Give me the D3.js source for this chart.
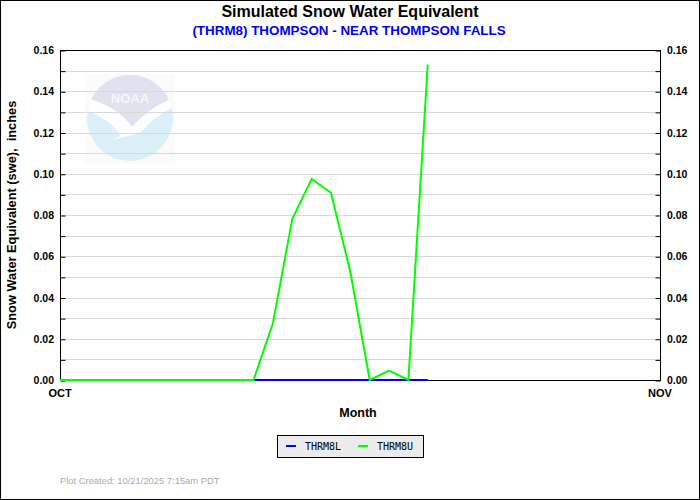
<!DOCTYPE html>
<html><head><meta charset="utf-8">
<script src="https://cdn.jsdelivr.net/npm/d3@7"></script>
<style>html,body{margin:0;padding:0;background:#fff}svg{display:block}</style>
</head><body>
<script>
// ---- data ----
const dates = ["2025-10-01","2025-10-02","2025-10-03","2025-10-04","2025-10-05","2025-10-06","2025-10-07","2025-10-08","2025-10-09","2025-10-10","2025-10-11","2025-10-12","2025-10-13","2025-10-14","2025-10-15","2025-10-16","2025-10-17","2025-10-18","2025-10-19","2025-10-20"];
const thrm8L = [0,0,0,0,0,0,0,0,0,0,0,0,0,0,0,0,0,0,0,0];
const thrm8U = [0,0,0,0,0,0,0,0,0,0,0,0.0275,0.078,0.0975,0.0908,0.0525,0,0.0045,0,0.153];
const yTicks = [0,0.02,0.04,0.06,0.08,0.10,0.12,0.14,0.16];
const xTickLabels = ["OCT","NOV"];
const xTickDates = ["2025-10-01","2025-11-01"];
const seriesNames = ["THRM8L","THRM8U"];
const seriesColors = ["#0000ff","#00ff00"];

const W=700,H=500;
const m={l:60,r:40,t:50,b:120};
const svg=d3.select("body").append("svg").attr("width",W).attr("height",H);
const parse=d3.utcParse("%Y-%m-%d");
const x=d3.scaleUtc().domain([parse(xTickDates[0]),parse(xTickDates[1])]).range([m.l,W-m.r]);
const y=d3.scaleLinear().domain([0,0.16]).range([H-m.b,m.t]);

svg.append("rect").attr("x",0.5).attr("y",0.5).attr("width",W-1).attr("height",H-1).attr("fill","#fff").attr("stroke","#000");

// NOAA logo (faded watermark)
const lg=svg.append("g");
const cx=130,cy=118,r=43;
lg.append("rect").attr("x",cx-45).attr("y",cy-44).attr("width",90).attr("height",90).attr("fill","#fbfbfb");
const defs=svg.append("defs");
defs.append("clipPath").attr("id","lc").append("circle").attr("cx",cx).attr("cy",cy).attr("r",r);
lg.append("circle").attr("cx",cx).attr("cy",cy).attr("r",r).attr("fill","#daeff8");
const lc=lg.append("g").attr("clip-path","url(#lc)");
lc.append("path").attr("d",`M80,70 L180,70 L180,95 Q150,106 132,127 Q116,104 80,97 Z`).attr("fill","#e0e2ee");
lc.append("path").attr("d",`M80,97 Q116,104 132,127 Q150,106 180,95 L180,104 Q156,114 140,133 L112,140 L121,136 Q108,116 80,109 Z`).attr("fill","#ffffff");
lg.append("text").attr("x",cx).attr("y",cy-15).attr("text-anchor","middle").attr("font-family","Liberation Sans, Arial, sans-serif").attr("font-weight","bold").attr("font-size",13).attr("fill","#f6f6fb").text("NOAA");

// gridlines
const grid=d3.range(1,16).map(d=>d/100);
svg.append("g").selectAll("line").data(grid).join("line")
  .attr("x1",m.l).attr("x2",W-m.r).attr("y1",d=>Math.round(y(d))+0.5).attr("y2",d=>Math.round(y(d))+0.5)
  .attr("stroke","#d9d9d9").attr("stroke-width",1);

// axes
const font="Liberation Sans, Arial, Helvetica, sans-serif";
const allTicks=d3.range(0,17).map(d=>d/100);
const yl=svg.append("g").attr("transform",`translate(${m.l+0.5},0.5)`)
  .call(d3.axisLeft(y).tickValues(allTicks).tickSizeInner(-5).tickSizeOuter(0).tickFormat(d=>""));
const yr=svg.append("g").attr("transform",`translate(${W-m.r+0.5},0.5)`)
  .call(d3.axisRight(y).tickValues(allTicks).tickSizeInner(-5).tickSizeOuter(0).tickFormat(d=>""));
[yl,yr].forEach(g=>{g.select(".domain").remove();g.selectAll("line").attr("stroke","#000");});
svg.append("g").selectAll("text").data(yTicks).join("text")
  .attr("x",m.l-6).attr("y",d=>y(d)+4).attr("text-anchor","end")
  .attr("font-family",font).attr("font-weight","bold").attr("font-size",10.5).text(d=>d3.format(".2f")(d));
svg.append("g").selectAll("text").data(yTicks).join("text")
  .attr("x",W-m.r+7).attr("y",d=>y(d)+4).attr("text-anchor","start")
  .attr("font-family",font).attr("font-weight","bold").attr("font-size",10.5).text(d=>d3.format(".2f")(d));
svg.append("g").selectAll("text").data(xTickDates).join("text")
  .attr("x",d=>x(parse(d))).attr("y",H-m.b+17).attr("text-anchor","middle")
  .attr("font-family",font).attr("font-weight","bold").attr("font-size",11).text((d,i)=>xTickLabels[i]);

// plot frame
svg.append("rect").attr("x",m.l+0.5).attr("y",m.t+0.5).attr("width",W-m.l-m.r).attr("height",H-m.t-m.b)
  .attr("fill","none").attr("stroke","#000");

// lines
const series=[thrm8L,thrm8U];
series.forEach((vals,i)=>{
  const line=d3.line().x((d,j)=>x(parse(dates[j]))).y(d=>y(d));
  svg.append("path").datum(vals).attr("d",line).attr("fill","none")
    .attr("stroke",seriesColors[i]).attr("stroke-width",2);
});

// titles
svg.append("text").attr("x",350).attr("y",17).attr("text-anchor","middle").attr("font-family",font)
  .attr("font-weight","bold").attr("font-size",16).text("Simulated Snow Water Equivalent");
svg.append("text").attr("x",349).attr("y",35).attr("text-anchor","middle").attr("font-family",font)
  .attr("font-weight","bold").attr("font-size",13.4).attr("fill","#0000ff").text("(THRM8) THOMPSON - NEAR THOMPSON FALLS");
svg.append("text").attr("transform",`translate(16,${(m.t+H-m.b)/2}) rotate(-90)`).attr("text-anchor","middle")
  .attr("font-family",font).attr("font-weight","bold").attr("font-size",12.8).attr("xml:space","preserve")
  .text("Snow Water Equivalent (swe),  inches");
svg.append("text").attr("x",358).attr("y",417).attr("text-anchor","middle").attr("font-family",font)
  .attr("font-weight","bold").attr("font-size",12.5).text("Month");

// legend
const lgd=svg.append("g");
lgd.append("rect").attr("x",277.5).attr("y",435.5).attr("width",146).attr("height",22).attr("fill","#ebebeb").attr("stroke","#000");
const lx=[286,358];
seriesNames.forEach((n,i)=>{
  lgd.append("line").attr("x1",lx[i]).attr("x2",lx[i]+10).attr("y1",446).attr("y2",446).attr("stroke",seriesColors[i]).attr("stroke-width",2);
  lgd.append("text").attr("x",lx[i]+19).attr("y",450).attr("font-family","DejaVu Sans Mono, monospace").attr("font-size",10).text(n);
});

// footer
svg.append("text").attr("x",60).attr("y",484).attr("font-family",font).attr("font-size",9.4).attr("fill","#aaaaaa")
  .text("Plot Created: 10/21/2025 7:15am PDT");
</script>
</body></html>
